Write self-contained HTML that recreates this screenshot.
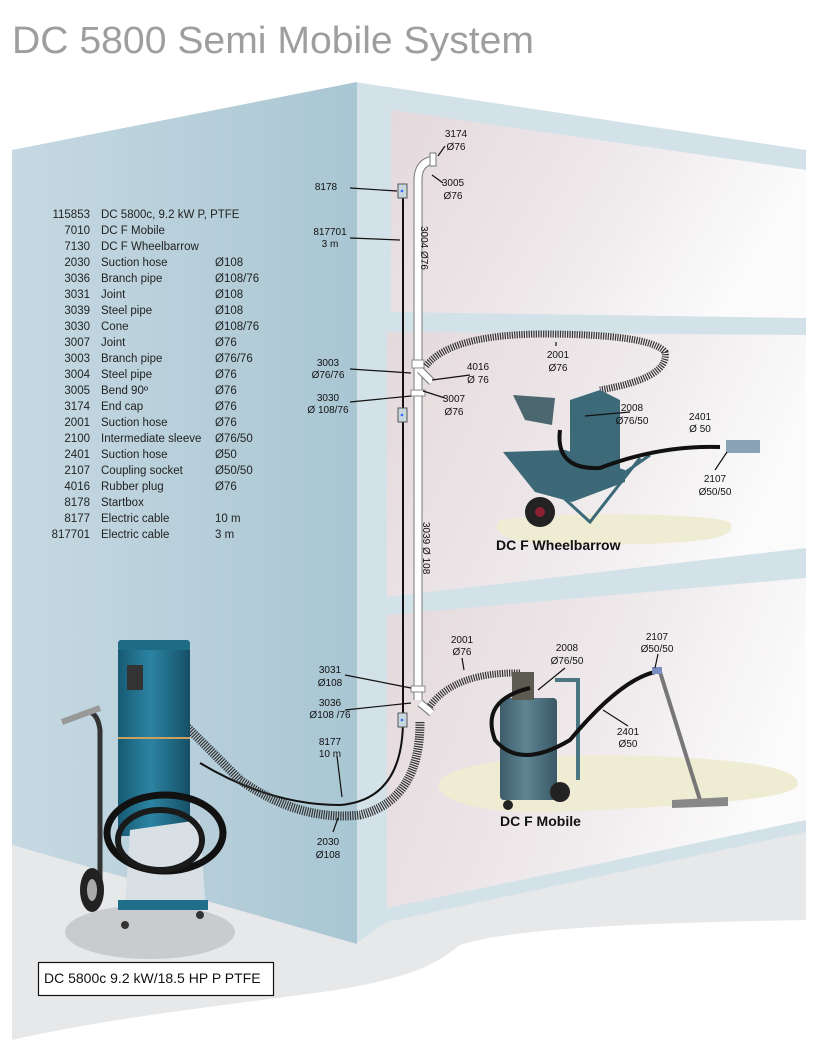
<!DOCTYPE html>
<html><head><meta charset="utf-8"><style>
html,body{margin:0;padding:0;background:#fff;}
svg{display:block;}
text{font-family:"Liberation Sans",sans-serif;}
</style></head><body>
<svg width="814" height="1056" viewBox="0 0 814 1056" xmlns="http://www.w3.org/2000/svg">
<defs>
<linearGradient id="lw" x1="0" x2="1" y1="0" y2="0"><stop offset="0" stop-color="#c6d9e2"/><stop offset="1" stop-color="#a9c6d3"/></linearGradient>
<linearGradient id="pk" x1="0" x2="1" y1="0" y2="0.3"><stop offset="0" stop-color="#e4d9dc"/><stop offset="0.6" stop-color="#efeaec"/><stop offset="1" stop-color="#fbfbfb"/></linearGradient>
<linearGradient id="cyl" x1="0" x2="1"><stop offset="0" stop-color="#175a73"/><stop offset="0.45" stop-color="#2b84a3"/><stop offset="1" stop-color="#164f66"/></linearGradient>
<linearGradient id="cyl2" x1="0" x2="1"><stop offset="0" stop-color="#3d5d6b"/><stop offset="0.45" stop-color="#5f8593"/><stop offset="1" stop-color="#3a5866"/></linearGradient>
</defs>
<text x="12" y="53" font-size="38" fill="#9e9e9e" textLength="522" lengthAdjust="spacingAndGlyphs">DC 5800 Semi Mobile System</text>
<!-- floor -->
<path d="M12,845 L355,942 L387,920 L806,830 L806,920 C700,922 520,925 460,945 C440,960 420,980 300,995 C200,1008 100,1020 12,1040 Z" fill="#e7e8ea"/>
<!-- right walls -->
<polygon points="355,82 806,150 806,832 387,922 355,944" fill="#d3e2e9"/>
<polygon points="391,110 806,170 806,318 391,312" fill="url(#pk)"/>
<polygon points="387,332 806,335 806,548 387,597" fill="url(#pk)"/>
<polygon points="387,615 806,578 806,820 387,908" fill="url(#pk)"/>
<!-- left wall -->
<polygon points="12,150 357,82 357,944 12,845" fill="url(#lw)"/>
<!-- shadow -->
<ellipse cx="150" cy="932" rx="85" ry="27" fill="#c9cccf"/>
<!-- cream floors -->
<path d="M500,520 C540,512 700,512 730,522 C740,540 700,545 560,545 C510,545 488,532 500,520Z" fill="#efecd4"/>
<path d="M440,780 C460,760 560,750 690,758 C760,762 800,770 798,785 C790,800 700,805 560,812 C480,815 430,800 440,780Z" fill="#efecd4"/>
<!-- parts list -->
<g font-size="11.5" fill="#222">
<g text-anchor="end">
<text x="90" y="218">115853</text><text x="90" y="234">7010</text><text x="90" y="250">7130</text><text x="90" y="266">2030</text><text x="90" y="282">3036</text><text x="90" y="298">3031</text><text x="90" y="314">3039</text><text x="90" y="330">3030</text><text x="90" y="346">3007</text><text x="90" y="362">3003</text><text x="90" y="378">3004</text><text x="90" y="394">3005</text><text x="90" y="410">3174</text><text x="90" y="426">2001</text><text x="90" y="442">2100</text><text x="90" y="458">2401</text><text x="90" y="474">2107</text><text x="90" y="490">4016</text><text x="90" y="506">8178</text><text x="90" y="522">8177</text><text x="90" y="538">817701</text>
</g>
<text x="101" y="218">DC 5800c, 9.2 kW P, PTFE</text><text x="101" y="234">DC F Mobile</text><text x="101" y="250">DC F Wheelbarrow</text><text x="101" y="266">Suction hose</text><text x="101" y="282">Branch pipe</text><text x="101" y="298">Joint</text><text x="101" y="314">Steel pipe</text><text x="101" y="330">Cone</text><text x="101" y="346">Joint</text><text x="101" y="362">Branch pipe</text><text x="101" y="378">Steel pipe</text><text x="101" y="394">Bend 90º</text><text x="101" y="410">End cap</text><text x="101" y="426">Suction hose</text><text x="101" y="442">Intermediate sleeve</text><text x="101" y="458">Suction hose</text><text x="101" y="474">Coupling socket</text><text x="101" y="490">Rubber plug</text><text x="101" y="506">Startbox</text><text x="101" y="522">Electric cable</text><text x="101" y="538">Electric cable</text>
<text x="215" y="266">Ø108</text><text x="215" y="282">Ø108/76</text><text x="215" y="298">Ø108</text><text x="215" y="314">Ø108</text><text x="215" y="330">Ø108/76</text><text x="215" y="346">Ø76</text><text x="215" y="362">Ø76/76</text><text x="215" y="378">Ø76</text><text x="215" y="394">Ø76</text><text x="215" y="410">Ø76</text><text x="215" y="426">Ø76</text><text x="215" y="442">Ø76/50</text><text x="215" y="458">Ø50</text><text x="215" y="474">Ø50/50</text><text x="215" y="490">Ø76</text><text x="215" y="522">10 m</text><text x="215" y="538">3 m</text>
</g>
<!-- pipe -->
<path d="M418,700 L418,180 Q418,162 434,160" fill="none" stroke="#777" stroke-width="9"/>
<path d="M418,700 L418,180 Q418,162 434,160" fill="none" stroke="#fff" stroke-width="7"/>
<rect x="430" y="153" width="6" height="13" fill="#fff" stroke="#777"/>
<rect x="412" y="360" width="12" height="8" fill="#fff" stroke="#888"/>
<path d="M420,370 L432,382" stroke="#777" stroke-width="8"/><path d="M420,370 L432,382" stroke="#fff" stroke-width="6"/>
<rect x="411" y="390" width="14" height="6" fill="#fff" stroke="#888"/>
<rect x="411" y="686" width="14" height="6" fill="#fff" stroke="#888"/>
<path d="M420,703 L432,713" stroke="#777" stroke-width="8"/><path d="M420,703 L432,713" stroke="#fff" stroke-width="6"/>
<!-- cable -->
<path d="M403,198 L403,720 Q403,800 340,805 Q270,805 200,763" fill="none" stroke="#111" stroke-width="2"/>
<rect x="398" y="184" width="9" height="14" fill="#c8d6dd" stroke="#555"/><circle cx="402" cy="191" r="1.3" fill="#36f"/>
<rect x="398" y="408" width="9" height="14" fill="#c8d6dd" stroke="#555"/><circle cx="402" cy="415" r="1.3" fill="#36f"/>
<rect x="398" y="713" width="9" height="14" fill="#c8d6dd" stroke="#555"/><circle cx="402" cy="720" r="1.3" fill="#36f"/>
<!-- hoses corrugated -->
<g fill="none" stroke-linecap="butt">
<path d="M420,722 Q420,800 360,815 Q300,822 240,780 Q190,730 145,685" stroke="#333" stroke-width="9" stroke-dasharray="1.2 1.2"/>
<path d="M426,366 Q450,335 540,334 Q650,334 665,352 Q670,378 600,390" stroke="#333" stroke-width="7" stroke-dasharray="1.2 1.2"/>
<path d="M430,706 Q455,672 520,673" stroke="#333" stroke-width="7" stroke-dasharray="1.2 1.2"/>
</g>
<!-- wheelbarrow -->
<polygon points="513,395 555,398 552,425 525,420" fill="#4d6770"/>
<path d="M570,400 L600,390 L620,400 L620,470 L570,470Z" fill="#3d6a78"/>
<polygon points="503,452 565,450 625,470 625,482 572,502 535,492" fill="#3c6877"/>
<circle cx="540" cy="512" r="15" fill="#222"/><circle cx="540" cy="512" r="5" fill="#8a2030"/>
<path d="M555,490 L590,522 L640,458 M600,490 L650,455" stroke="#3a6a78" stroke-width="3" fill="none"/>
<path d="M560,430 Q555,470 600,468 Q660,445 720,447" stroke="#111" stroke-width="4" fill="none"/>
<rect x="726" y="440" width="34" height="13" fill="#8aa2b6"/>
<!-- mobile -->
<path d="M555,680 L578,680 L578,780" stroke="#4a7583" stroke-width="4" fill="none"/>
<rect x="500" y="698" width="57" height="102" rx="4" fill="url(#cyl2)"/>
<rect x="512" y="672" width="22" height="28" fill="#5d5a52"/>
<circle cx="560" cy="792" r="10" fill="#222"/><circle cx="508" cy="805" r="5" fill="#222"/>
<path d="M530,688 Q480,700 495,740 Q520,770 570,740 Q620,680 655,672" stroke="#111" stroke-width="4" fill="none"/>
<path d="M660,672 L700,800" stroke="#777" stroke-width="4"/>
<path d="M672,800 L728,797 L728,806 L672,808Z" fill="#888"/>
<rect x="652" y="667" width="10" height="7" fill="#7a8cc2"/>
<!-- DC5800 machine -->
<path d="M100,900 L100,730 Q98,715 90,712" stroke="#333" stroke-width="5" fill="none"/>
<path d="M62,722 L100,708" stroke="#999" stroke-width="6"/>
<rect x="118" y="646" width="72" height="190" rx="4" fill="url(#cyl)"/>
<rect x="118" y="640" width="72" height="10" rx="3" fill="#1e6b85"/>
<path d="M118,738 L190,738" stroke="#c9a060" stroke-width="2"/>
<rect x="127" y="665" width="16" height="25" fill="#333"/>
<path d="M130,830 L200,820 L205,900 L125,905Z" fill="#d8e0e6"/>
<ellipse cx="165" cy="833" rx="58" ry="38" fill="none" stroke="#111" stroke-width="7"/>
<ellipse cx="160" cy="840" rx="42" ry="30" fill="none" stroke="#1a1a1a" stroke-width="6"/>
<ellipse cx="92" cy="890" rx="12" ry="22" fill="#222"/><ellipse cx="92" cy="890" rx="5" ry="11" fill="#aaa"/>
<rect x="118" y="900" width="90" height="10" fill="#1f6f8b"/>
<circle cx="125" cy="925" r="4" fill="#333"/><circle cx="200" cy="915" r="4" fill="#333"/>
<!-- callout lines -->
<g stroke="#111" stroke-width="1.2" fill="none">
<path d="M445,146 L438,156"/><path d="M443,183 L432,175"/>
<path d="M350,188 L397,191"/><path d="M350,238 L400,240"/>
<path d="M350,369 L411,373"/><path d="M350,402 L411,396"/>
<path d="M470,375 L432,380"/><path d="M445,398 L423,391"/>
<path d="M556,342 L556,346"/>
<path d="M630,412 L585,416"/><path d="M715,470 L727,452"/>
<path d="M345,675 L411,688"/><path d="M345,710 L411,703"/>
<path d="M337,756 L342,797"/><path d="M333,832 L338,818"/>
<path d="M462,658 L464,670"/><path d="M565,668 L538,690"/>
<path d="M658,654 L655,668"/><path d="M628,726 L603,710"/>
</g>
<!-- labels -->
<g font-size="10" fill="#111" text-anchor="middle">
<text x="456" y="137">3174</text><text x="456" y="150">Ø76</text>
<text x="453" y="186">3005</text><text x="453" y="199">Ø76</text>
<text x="326" y="190">8178</text>
<text x="330" y="235">817701</text><text x="330" y="247">3 m</text>
<text x="328" y="366">3003</text><text x="328" y="378">Ø76/76</text>
<text x="328" y="401">3030</text><text x="328" y="413">Ø 108/76</text>
<text x="478" y="370">4016</text><text x="478" y="383">Ø 76</text>
<text x="454" y="402">3007</text><text x="454" y="415">Ø76</text>
<text x="558" y="358">2001</text><text x="558" y="371">Ø76</text>
<text x="632" y="411">2008</text><text x="632" y="424">Ø76/50</text>
<text x="700" y="420">2401</text><text x="700" y="432">Ø 50</text>
<text x="715" y="482">2107</text><text x="715" y="495">Ø50/50</text>
<text x="330" y="673">3031</text><text x="330" y="686">Ø108</text>
<text x="330" y="706">3036</text><text x="330" y="718">Ø108 /76</text>
<text x="330" y="745">8177</text><text x="330" y="757">10 m</text>
<text x="328" y="845">2030</text><text x="328" y="858">Ø108</text>
<text x="462" y="643">2001</text><text x="462" y="655">Ø76</text>
<text x="567" y="651">2008</text><text x="567" y="664">Ø76/50</text>
<text x="657" y="640">2107</text><text x="657" y="652">Ø50/50</text>
<text x="628" y="735">2401</text><text x="628" y="747">Ø50</text>
<text transform="translate(421,226) rotate(90)" text-anchor="start">3004 Ø76</text>
<text transform="translate(423,522) rotate(90)" text-anchor="start">3039 Ø 108</text>
</g>
<text x="496" y="550" font-size="14" font-weight="bold" fill="#111">DC F Wheelbarrow</text>
<text x="500" y="826" font-size="14" font-weight="bold" fill="#111">DC F Mobile</text>
<rect x="38.5" y="962.5" width="235" height="33" fill="#fff" stroke="#111" stroke-width="1.2"/>
<text x="44" y="983" font-size="14" fill="#111">DC 5800c 9.2 kW/18.5 HP P PTFE</text>
</svg>
</body></html>
